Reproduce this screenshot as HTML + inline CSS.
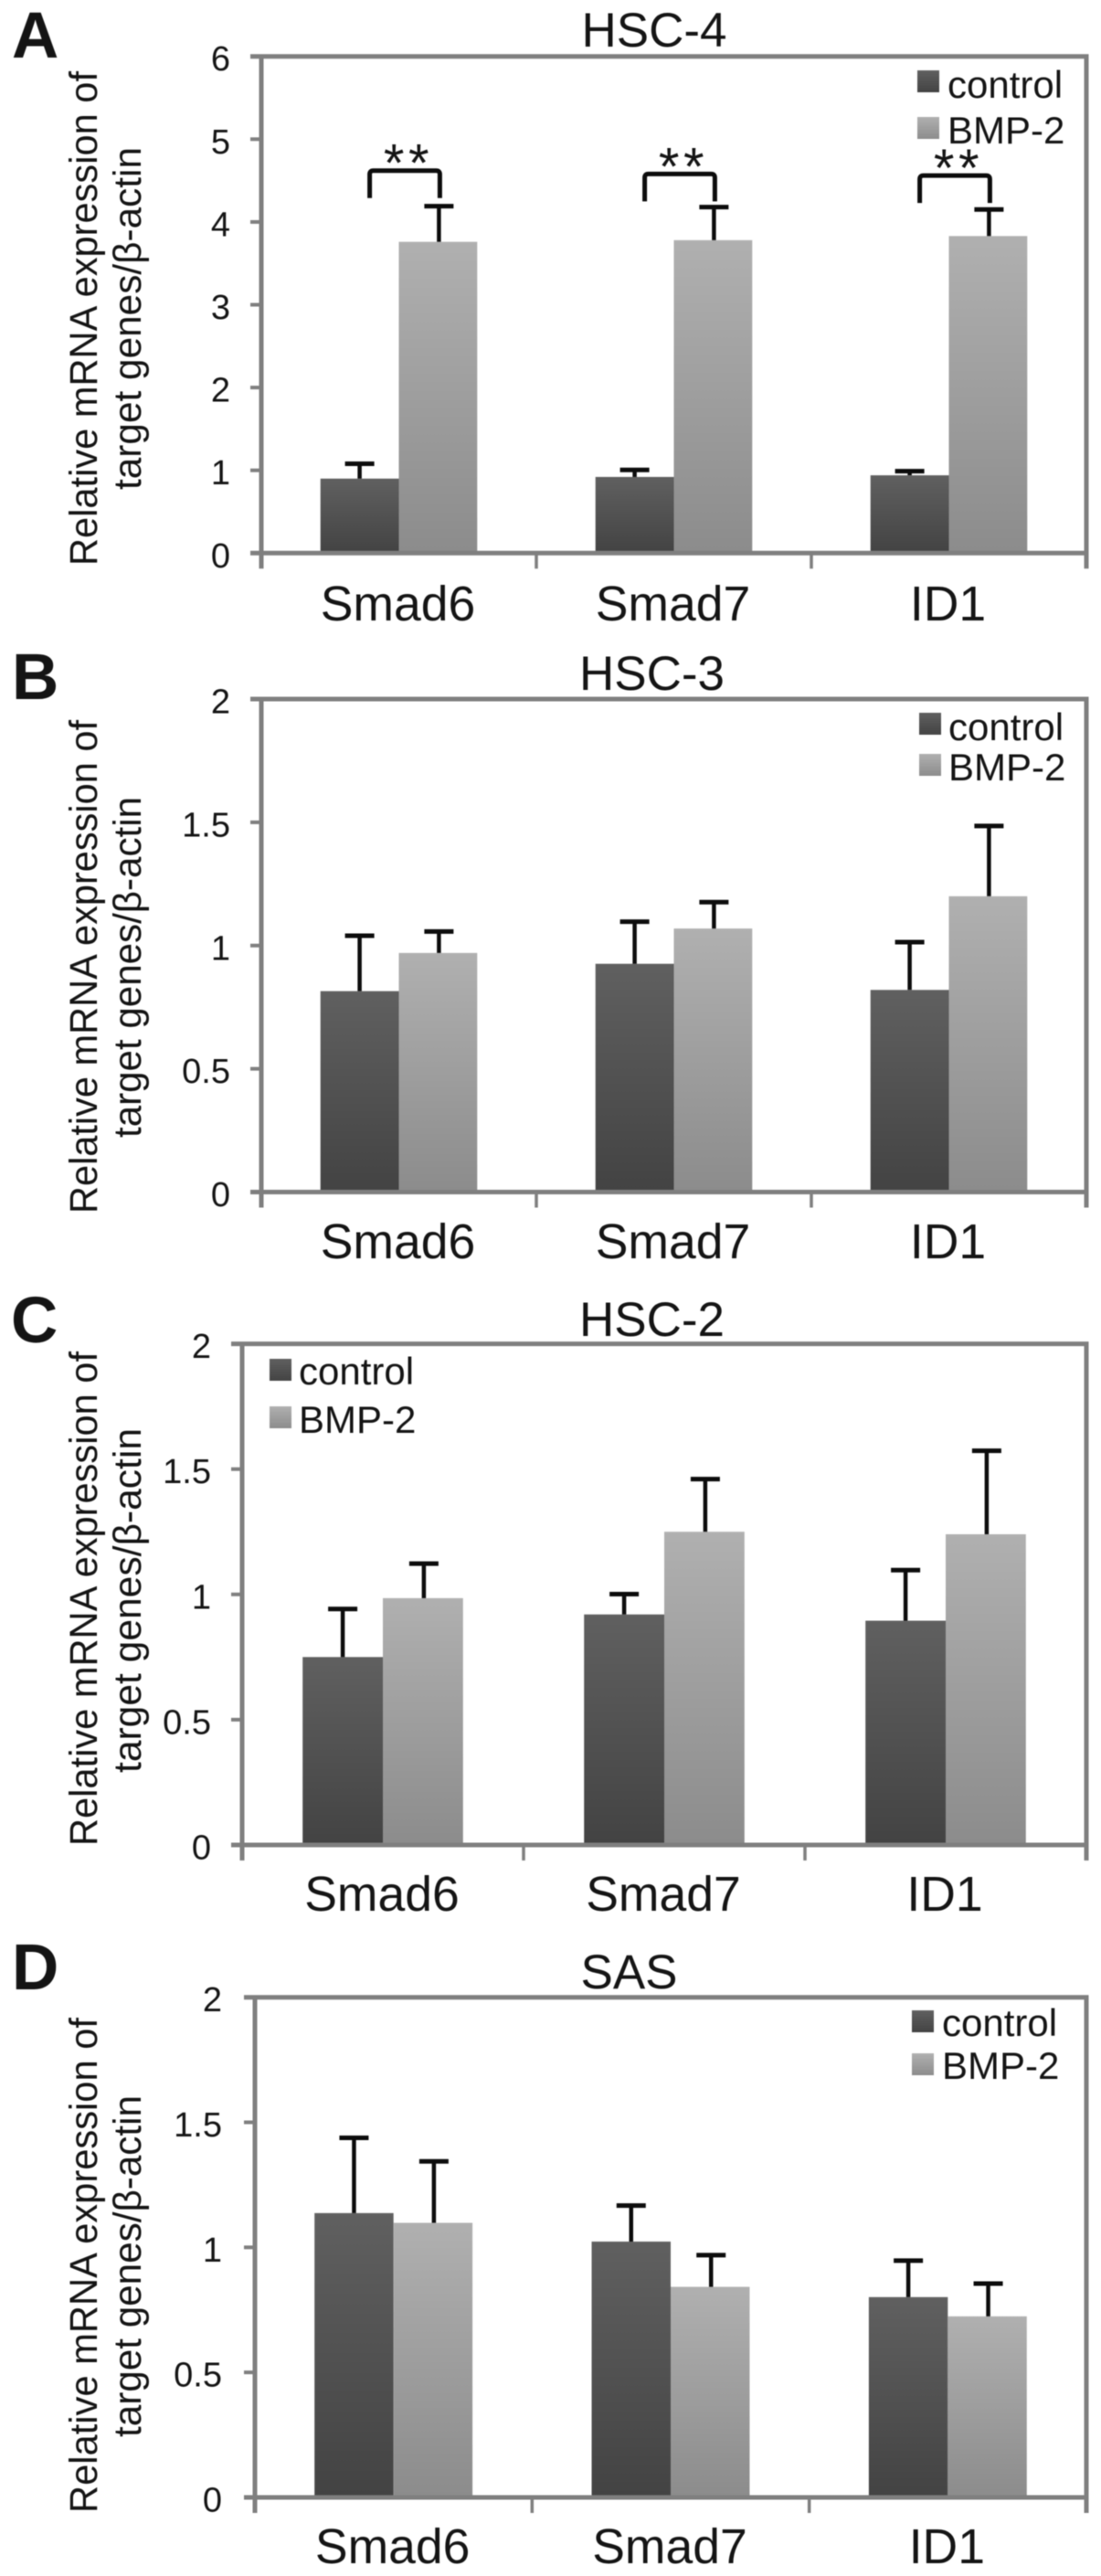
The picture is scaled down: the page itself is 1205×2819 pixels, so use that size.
<!DOCTYPE html>
<html lang="en">
<head>
<meta charset="utf-8">
<title>Relative mRNA expression of target genes</title>
<style>
html,body{margin:0;padding:0;background:#fff;}
#figure{display:block;width:1205px;height:2819px;filter:blur(0.6px);font-family:"Liberation Sans",Arial,sans-serif;}
text{font-family:"Liberation Sans",Arial,sans-serif;fill:#141414;}
</style>
</head>
<body>
<svg id="figure" xmlns="http://www.w3.org/2000/svg" width="1205" height="2819" viewBox="0 0 1205 2819">
  <defs>
    <linearGradient id="grad-control" x1="0" y1="0" x2="0" y2="1">
      <stop offset="0" stop-color="#606060"/>
      <stop offset="1" stop-color="#434343"/>
    </linearGradient>
    <linearGradient id="grad-bmp" x1="0" y1="0" x2="0" y2="1">
      <stop offset="0" stop-color="#b0b0b0"/>
      <stop offset="1" stop-color="#8c8c8c"/>
    </linearGradient>
  </defs>
</svg>
<script>
// ---- chart data ----
const categories = ["Smad6", "Smad7", "ID1"];
const seriesNames = ["control", "BMP-2"];

const ticksA = [0, 1, 2, 3, 4, 5, 6];
const controlA = [0.90, 0.92, 0.94];
const bmpA = [3.76, 3.78, 3.83];
const controlErrA = [0.18, 0.085, 0.05];
const bmpErrA = [0.43, 0.40, 0.32];
const sigLevelA = [4.62, 4.58, 4.56];

const ticksB = [0, 0.5, 1, 1.5, 2];
const controlB = [0.815, 0.926, 0.82];
const bmpB = [0.97, 1.069, 1.2];
const controlErrB = [0.225, 0.171, 0.194];
const bmpErrB = [0.087, 0.107, 0.285];

const ticksC = [0, 0.5, 1, 1.5, 2];
const controlC = [0.75, 0.92, 0.895];
const bmpC = [0.985, 1.25, 1.24];
const controlErrC = [0.192, 0.081, 0.202];
const bmpErrC = [0.138, 0.21, 0.333];

const ticksD = [0, 0.5, 1, 1.5, 2];
const controlD = [1.137, 1.023, 0.801];
const bmpD = [1.098, 0.842, 0.724];
const controlErrD = [0.301, 0.144, 0.146];
const bmpErrD = [0.246, 0.127, 0.131];

const panelTitles = ["HSC-4", "HSC-3", "HSC-2", "SAS"];
const panelLetters = ["A", "B", "C", "D"];

// ---- layout ----
const layouts = [
  {left:286, right:1189, top:61.7, base:605.3, titleX:716, titleY:51, letterX:13, letterY:63,
   legX:1004, legY:[77,128], legTextX:1037, legBase:[107,157],
   xLabelY:679, line1:[78,619], line2:[161,536], labelRight:252},
  {left:286, right:1189, top:765, base:1304.5, titleX:713.5, titleY:755, letterX:13, letterY:765,
   legX:1006, legY:[780,825], legTextX:1038, legBase:[810,854],
   xLabelY:1377, line1:[788,1328], line2:[872,1245], labelRight:252},
  {left:265, right:1189, top:1470.6, base:2019, titleX:713.5, titleY:1462, letterX:12, letterY:1469,
   legX:295, legY:[1487,1539], legTextX:327, legBase:[1515,1568],
   xLabelY:2091, line1:[1479,2020], line2:[1563,1940], labelRight:231},
  {left:279, right:1189, top:2185.7, base:2733, titleX:688.5, titleY:2176, letterX:13, letterY:2177,
   legX:998, legY:[2200,2247], legTextX:1031, legBase:[2228,2275],
   xLabelY:2805, line1:[2208,2750], line2:[2293,2667], labelRight:243}
];

const panelData = [
  {ticks:ticksA, control:controlA, bmp:bmpA, controlErr:controlErrA, bmpErr:bmpErrA, sig:sigLevelA},
  {ticks:ticksB, control:controlB, bmp:bmpB, controlErr:controlErrB, bmpErr:bmpErrB, sig:null},
  {ticks:ticksC, control:controlC, bmp:bmpC, controlErr:controlErrC, bmpErr:bmpErrC, sig:null},
  {ticks:ticksD, control:controlD, bmp:bmpD, controlErr:controlErrD, bmpErr:bmpErrD, sig:null}
];

const NS = "http://www.w3.org/2000/svg";
const AXIS = "#7f7f7f";
const svg = document.getElementById("figure");

function make(parent, tag, props, content) {
  const node = document.createElementNS(NS, tag);
  for (const k in props) node.setAttribute(k, props[k]);
  if (content !== undefined) node.textContent = content;
  parent.appendChild(node);
  return node;
}

panelData.forEach(function (data, p) {
  const L = layouts[p];
  const key = panelLetters[p].toLowerCase();
  const yMax = data.ticks[data.ticks.length - 1];
  const y = function (v) { return L.base - (v / yMax) * (L.base - L.top); };
  const band = (L.right - L.left) / categories.length;
  const xCenter = function (i) { return L.left + band * (i + 0.5); };
  const barW = band * 0.285;

  const g = make(svg, "g", {});
  
  

  const letter = make(g, "text", {x:L.letterX, y:L.letterY, "font-size":71, "font-weight":"bold", fill:"#000"}, panelLetters[p]);
  
  

  const title = make(g, "text", {x:L.titleX, y:L.titleY, "font-size":53, "text-anchor":"middle"}, panelTitles[p]);
  
  

  // y axis title
  const t1 = make(g, "text", {
    x:0, y:0, "font-size":43, "text-anchor":"middle",
    textLength:L.line1[1] - L.line1[0], lengthAdjust:"spacingAndGlyphs",
    transform:"translate(106," + (L.line1[0] + L.line1[1]) / 2 + ") rotate(-90)", fill:"#222"
  }, "Relative mRNA expression of");
  
  

  const t2 = make(g, "text", {
    x:0, y:0, "font-size":43, "text-anchor":"middle",
    textLength:L.line2[1] - L.line2[0], lengthAdjust:"spacingAndGlyphs",
    transform:"translate(154," + (L.line2[0] + L.line2[1]) / 2 + ") rotate(-90)", fill:"#222"
  }, "target genes/\u03b2-actin");
  
  

  // bars
  categories.forEach(function (cat, i) {
    const c = xCenter(i);
    const b1 = make(g, "rect", {x:c - barW, y:y(data.control[i]), width:barW, height:L.base - y(data.control[i]), fill:"url(#grad-control)"});
    
    
    const b2 = make(g, "rect", {x:c, y:y(data.bmp[i]), width:barW, height:L.base - y(data.bmp[i]), fill:"url(#grad-bmp)"});
    
    
  });

  // frame
  const frame = make(g, "path", {
    d:"M" + (L.left - 12) + " " + L.top + "H" + L.right + "V" + (L.base + 17) +
      "M" + L.left + " " + L.top + "V" + (L.base + 17) +
      "M" + (L.left - 12) + " " + L.base + "H" + L.right,
    stroke:AXIS, "stroke-width":5, fill:"none"
  });
  
  

  // y ticks
  data.ticks.forEach(function (v) {
    const tick = make(g, "line", {x1:L.left - 12, x2:L.left, y1:y(v), y2:y(v), stroke:AXIS, "stroke-width":4});
    
    
    const lab = make(g, "text", {x:L.labelRight, y:y(v) + 15.5, "font-size":38, "text-anchor":"end", fill:"#222"}, String(v));
    
    
  });

  // x ticks and labels
  categories.forEach(function (cat, i) {
    if (i > 0) {
      const tx = L.left + band * i;
      const tick = make(g, "line", {x1:tx, x2:tx, y1:L.base, y2:L.base + 17, stroke:AXIS, "stroke-width":3.5});
      
      
    }
    const lab = make(g, "text", {x:xCenter(i) - 1, y:L.xLabelY, "font-size":53.5, "text-anchor":"middle"}, cat);
    
    
  });

  // error bars
  function errorBar(cx, value, err, name) {
    const top = y(value + err);
    const stem = make(g, "line", {x1:cx, x2:cx, y1:y(value), y2:top, stroke:"#0c0c0c", "stroke-width":4.5});
    
    
    const cap = make(g, "line", {x1:cx - 16, x2:cx + 16, y1:top, y2:top, stroke:"#0c0c0c", "stroke-width":5});
    
    
  }
  categories.forEach(function (cat, i) {
    const c = xCenter(i);
    errorBar(c - barW / 2, data.control[i], data.controlErr[i], 'error-bar-control-' + cat.toLowerCase() + '-' + key);
    errorBar(c + barW / 2 + 1, data.bmp[i], data.bmpErr[i], 'error-bar-bmp2-' + cat.toLowerCase() + '-' + key);
  });

  // significance brackets
  if (data.sig) {
    categories.forEach(function (cat, i) {
      const c = xCenter(i);
      const xl = c - barW / 2 + 11;
      const xr = c + barW / 2 + 2;
      const yt = y(data.sig[i]);
      const br = make(g, "path", {
        d:"M" + xl + " " + (yt + 30) + "V" + (yt + 4) + "Q" + xl + " " + yt + " " + (xl + 4) + " " + yt +
          "H" + (xr - 4) + "Q" + xr + " " + yt + " " + xr + " " + (yt + 4) + "V" + (yt + 30),
        stroke:"#0c0c0c", "stroke-width":5, fill:"none"
      });
      
      
      const st = make(g, "text", {x:(xl + xr) / 2 + 4, y:yt + 12, "font-size":58, "text-anchor":"middle", "letter-spacing":4.5}, "**");
      
      
    });
  }

  // legend
  seriesNames.forEach(function (nm, s) {
    const sw = make(g, "rect", {x:L.legX, y:L.legY[s], width:24, height:24, fill:s === 0 ? "url(#grad-control)" : "url(#grad-bmp)"});
    
    
    const tx = make(g, "text", {x:L.legTextX, y:L.legBase[s], "font-size":42}, nm);
    
    
  });
});
</script>
</body>
</html>
